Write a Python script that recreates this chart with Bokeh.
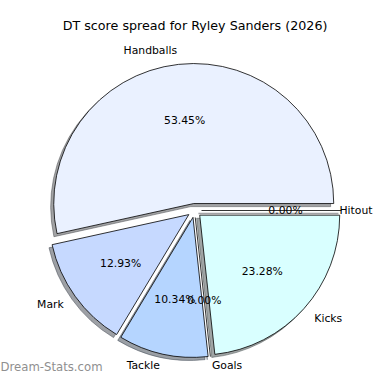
import numpy as np
import pandas as pd
from bokeh.plotting import figure
from bokeh.models import ColumnDataSource, Range1d, Label
from bokeh.core.properties import value
from bokeh.embed import file_html
from bokeh.resources import INLINE

# ---- data ----
labels = ["Handballs", "Mark", "Tackle", "Goals", "Kicks", "Hitout"]
values = [62, 15, 12, 0, 27, 0]
colors = ["#EAF1FF", "#C6D9FF", "#B5D5FF", "#A8CCFF", "#D9FFFF", "#E6E6FF"]
explode = [0.05, 0.05, 0.05, 0.05, 0.05, 0.05]
title = "DT score spread for Ryley Sanders (2026)"
watermark = "Dream-Stats.com"

# ---- geometry (matplotlib-like pie) ----
R = 1.0
PX = 140.0             # pixels per data unit
CX, CY = 194.0, 210.0  # pie centre in plot pixels (from top-left)
W = H = 374
SH = 0.022             # shadow offset

df = pd.DataFrame({"label": labels, "value": values, "color": colors, "explode": explode})
total = df["value"].sum()
frac = df["value"] / total
df["end"] = 2 * np.pi * frac.cumsum()
df["start"] = df["end"] - 2 * np.pi * frac
df["mid"] = (df["start"] + df["end"]) / 2
df["x"] = df["explode"] * np.cos(df["mid"])
df["y"] = df["explode"] * np.sin(df["mid"])
df["pct"] = [f"{v:.2f}%" for v in frac * 100]
df["lx"] = df["x"] + 1.1 * R * np.cos(df["mid"])
df["ly"] = df["y"] + 1.1 * R * np.sin(df["mid"])
df["align"] = np.where(df["lx"] > 0, "left", "right")
# keep labels inside the canvas (approximate text width / height)
xmax = (W - 2 - CX) / PX
est_w = df["label"].str.len() * 6.3 / PX
over = (df["align"] == "left") & (df["lx"] + est_w > xmax)
df.loc[over, "lx"] = xmax
df.loc[over, "align"] = "right"
ymin = -(H - 9 - CY) / PX
df["ly"] = df["ly"].clip(lower=ymin)

df["px"] = df["x"] + 0.6 * R * np.cos(df["mid"])
df["py"] = df["y"] + 0.6 * R * np.sin(df["mid"])
df["shadow"] = [
    "#%02x%02x%02x" % tuple(int(int(c[i:i + 2], 16) * 0.3) for i in (1, 3, 5))
    for c in df["color"]
]
df["sx"] = df["x"] - SH
df["sy"] = df["y"] - SH
df["ex"] = df["x"] + R * np.cos(df["start"])
df["ey"] = df["y"] + R * np.sin(df["start"])
df["sex"] = df["ex"] - SH
df["sey"] = df["ey"] - SH

nz = ColumnDataSource(df[df["value"] > 0])
zz = ColumnDataSource(df[df["value"] == 0])
allsrc = ColumnDataSource(df)

p = figure(width=W, height=H, output_backend="svg", toolbar_location=None,
           x_range=Range1d(-CX / PX, (W - CX) / PX),
           y_range=Range1d(-(H - CY) / PX, CY / PX),
           min_border=0, outline_line_color=None)
p.axis.visible = False
p.grid.visible = False
p.background_fill_color = "white"
p.border_fill_color = "white"

# shadows
p.wedge(x="sx", y="sy", radius=R, start_angle="start", end_angle="end",
        fill_color="shadow", line_color="shadow", fill_alpha=0.5, line_alpha=0.5,
        line_width=1, source=nz)
p.segment(x0="sx", y0="sy", x1="sex", y1="sey", line_color="shadow",
          line_alpha=0.5, line_width=1.5, source=zz)

# wedges
p.wedge(x="x", y="y", radius=R, start_angle="start", end_angle="end",
        fill_color="color", line_color="black", line_width=0.8, source=nz)
p.segment(x0="x", y0="y", x1="ex", y1="ey", line_color="black",
          line_width=0.8, source=zz)

# labels
p.text(x="lx", y="ly", text="label", text_align="align", text_baseline="middle",
       text_font=value("DejaVu Sans"), text_font_size="10.8px", text_color="black",
       source=allsrc)
p.text(x="px", y="py", text="pct", text_align="center", text_baseline="middle",
       text_font=value("DejaVu Sans"), text_font_size="10.8px", text_color="black",
       source=allsrc)

p.add_layout(Label(x=0.004, y=(CY - 25) / PX, text=title, text_align="center",
                   text_baseline="middle", text_font="DejaVu Sans",
                   text_font_size="12.7px", text_color="black"))
p.add_layout(Label(x=0, y=1, x_units="screen", y_units="screen", text=watermark,
                   text_align="left", text_baseline="bottom", text_font="DejaVu Sans",
                   text_font_size="11.7px", text_color="#8f8f8f"))

open("out.html", "w").write(file_html(p, INLINE))
